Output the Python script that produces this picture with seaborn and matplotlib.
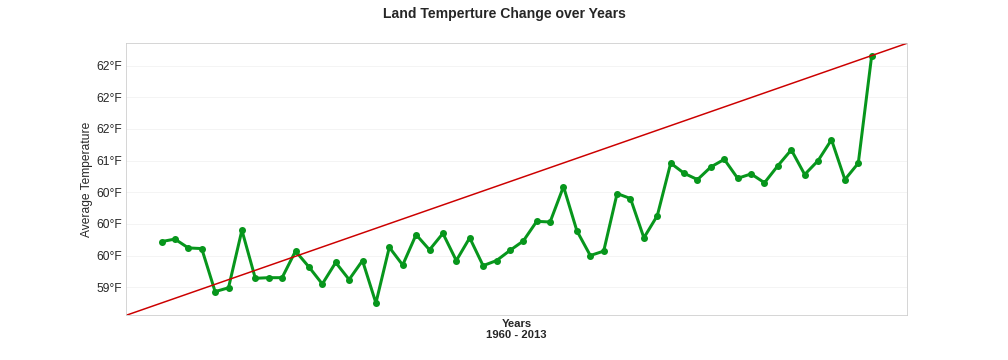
import pandas as pd
import matplotlib
matplotlib.use("Agg")
import matplotlib.pyplot as plt
import matplotlib.ticker as mticker
import numpy as np
import seaborn as sns

# datos (promedio anual, Fahrenheit)
years = list(range(1960, 2014))
temps = [59.72, 59.76, 59.62, 59.61, 58.93, 58.99, 59.90, 59.14, 59.15, 59.15,
         59.57, 59.32, 59.05, 59.39, 59.12, 59.42, 58.75, 59.63, 59.35, 59.83,
         59.59, 59.85, 59.42, 59.78, 59.34, 59.42, 59.58, 59.73, 60.04, 60.03,
         60.59, 59.89, 59.50, 59.57, 60.48, 60.40, 59.78, 60.13, 60.96, 60.80,
         60.70, 60.90, 61.02, 60.72, 60.79, 60.65, 60.92, 61.17, 60.78, 61.00,
         61.33, 60.70, 60.96, 62.66]
yticks = [59.0, 59.5, 60.0, 60.5, 61.0, 61.5, 62.0, 62.5]

df = pd.DataFrame({'Year': years, 'Temp': temps})

sns.set_style("whitegrid", {
    'grid.color': '#f2f2f2',
    'axes.edgecolor': '#cccccc',
})
plt.rcParams['font.family'] = ['Liberation Sans', 'DejaVu Sans']

fig, ax = plt.subplots(figsize=(14, 5), dpi=72)
fig.subplots_adjust(left=0.125, right=0.9, top=0.88, bottom=0.124)

sns.lineplot(data=df, x='Year', y='Temp', ax=ax, color='#07961c', linewidth=3,
             marker='o', markersize=7, markeredgecolor='#07961c', markeredgewidth=0)

# linea diagonal de esquina a esquina
ax.plot([0, 1], [0, 1], transform=ax.transAxes, color='#cc0000', linewidth=1.5)

ax.set_yticks(yticks)
ax.yaxis.set_major_formatter(mticker.FuncFormatter(lambda v, p: f"{v:.0f}°F"))
ax.tick_params(axis='y', labelsize=12, colors='#262626', length=0)
ax.set_xticks([])
ax.xaxis.grid(False)

ax.set_ylabel('Average Temperature', fontsize=12, color='#262626')
ax.set_xlabel('Years\n1960 - 2013', fontsize=11.2, fontweight='bold', color='#262626',
              labelpad=3.5, linespacing=1.2)
fig.suptitle('Land Temperture Change over Years', fontsize=14, fontweight='bold',
             color='#262626')

plt.savefig('out.png', dpi=72)
